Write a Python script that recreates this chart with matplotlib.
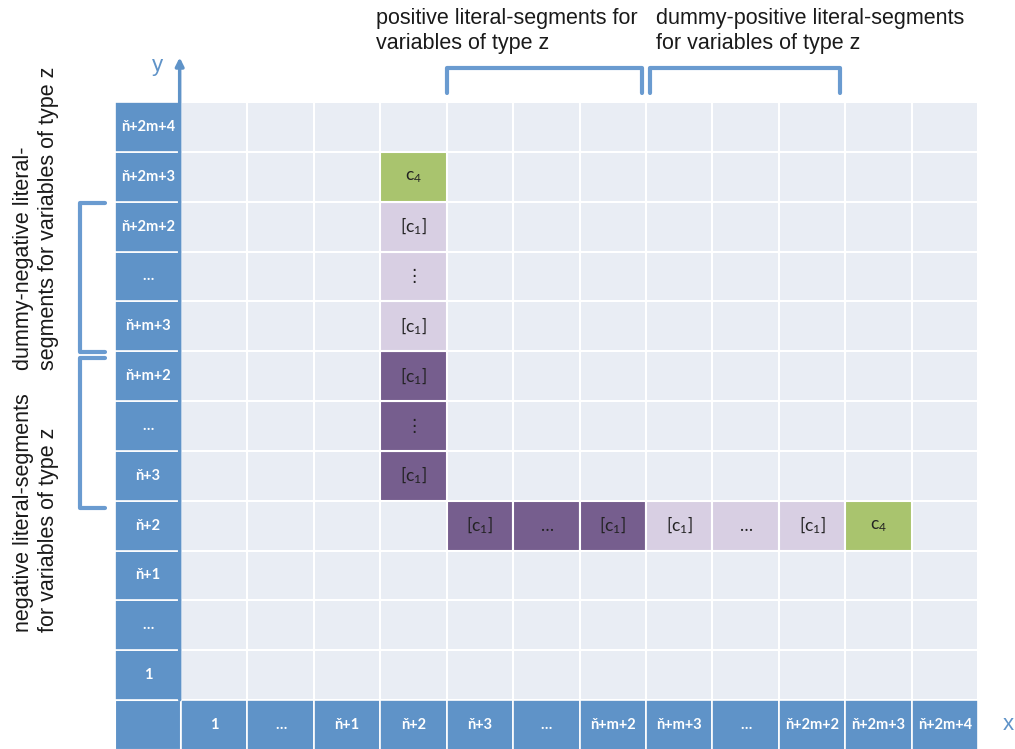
import matplotlib
matplotlib.use('Agg')
import matplotlib.pyplot as plt
from matplotlib.patches import Rectangle

plt.rcParams['mathtext.default'] = 'regular'

# etichette degli assi (uguali per righe e colonne)
labels = ['1', '…', 'ň+1', 'ň+2', 'ň+3', '…', 'ň+m+2', 'ň+m+3', '…',
          'ň+2m+2', 'ň+2m+3', 'ň+2m+4']

# celle colorate
cell_cols = [3, 3, 3, 3, 3, 3, 3, 4, 5, 6, 7, 8, 9, 10]
cell_rows = [4, 5, 6, 7, 8, 9, 10, 3, 3, 3, 3, 3, 3, 3]
cell_kind = ['dark', 'dark', 'dark', 'light', 'light', 'light', 'green',
             'dark', 'dark', 'dark', 'light', 'light', 'light', 'green']
cell_text = ['[c$_1$]', '⋮', '[c$_1$]', '[c$_1$]', '⋮', '[c$_1$]', 'c$_4$',
             '[c$_1$]', '…', '[c$_1$]', '[c$_1$]', '…', '[c$_1$]', 'c$_4$']

colors = {'dark': '#765E8E', 'light': '#D8CFE3', 'green': '#A9C46E'}
bg = '#E9EDF4'
blue = '#5F93C8'
line_blue = '#6A9BD0'

n = len(labels)

fig = plt.figure(figsize=(10.15, 7.49), dpi=100)
ax = fig.add_axes([0, 0, 1, 1])
ax.set_xlim(-2.725, 12.556)
ax.set_ylim(-0.983, 14.047)
ax.axis('off')

# griglia di sfondo
for i in range(n):
    for j in range(n):
        ax.add_patch(Rectangle((i, j), 1, 1, facecolor=bg, edgecolor='white', lw=1.5))

# celle colorate
for c, r, k, t in zip(cell_cols, cell_rows, cell_kind, cell_text):
    ax.add_patch(Rectangle((c, r), 1, 1, facecolor=colors[k], edgecolor='white', lw=1.5, zorder=2))
    ax.text(c + 0.5, r + 0.5, t, ha='center', va='center', fontsize=12.5,
            color='#222222', family=['Lato', 'DejaVu Sans'], zorder=3)

# etichette blu
ax.add_patch(Rectangle((-1, -1), 1, 1, facecolor=blue, edgecolor='white', lw=1.5))
for i, lab in enumerate(labels):
    ax.add_patch(Rectangle((-1, i), 1, 1, facecolor=blue, edgecolor='white', lw=1.2))
    ax.text(-0.5, i + 0.5, lab, ha='center', va='center', fontsize=10.5,
            color='white', weight='bold', family=['Lato', 'DejaVu Sans'])
    ax.add_patch(Rectangle((i, -1), 1, 1, facecolor=blue, edgecolor='white', lw=1.2))
    ax.text(i + 0.5, -0.5, lab, ha='center', va='center', fontsize=10.5,
            color='white', weight='bold', family=['Lato', 'DejaVu Sans'])

# assi con freccia
ax.annotate('', xy=(-0.02, 12.95), xytext=(-0.02, -0.05),
            arrowprops=dict(arrowstyle='-|>', color=blue, lw=2.5, mutation_scale=12), zorder=5)
ax.annotate('', xy=(12.7, -0.02), xytext=(-0.05, -0.02),
            arrowprops=dict(arrowstyle='-|>', color=blue, lw=2.5, mutation_scale=12), zorder=5)
ax.text(-0.35, 12.74, 'y', ha='center', va='center', fontsize=16, color=blue,
        family='Liberation Sans')
ax.text(12.45, -0.5, 'x', ha='center', va='center', fontsize=16, color=blue,
        family='Liberation Sans')

# parentesi
def bracket_top(x0, x1, ytop, ybot):
    ax.plot([x0, x0, x1, x1], [ybot, ytop, ytop, ybot], color=line_blue, lw=3,
            solid_joinstyle='round', solid_capstyle='round', zorder=4)

def bracket_left(y0, y1, xl, xr):
    ax.plot([xr, xl, xl, xr], [y0, y0, y1, y1], color=line_blue, lw=3,
            solid_joinstyle='round', solid_capstyle='round', zorder=4)

bracket_top(4.0, 6.94, 12.68, 12.18)
bracket_top(7.06, 9.92, 12.68, 12.18)
bracket_left(9.97, 6.98, -1.52, -1.14)
bracket_left(6.86, 3.85, -1.52, -1.14)

# testi
tkw = dict(fontsize=15.5, color='#1a1a1a', family='Liberation Sans', linespacing=1.22)
ax.text(2.94, 13.88, 'positive literal-segments for\nvariables of type z', ha='left', va='top', **tkw)
ax.text(7.15, 13.88, 'dummy-positive literal-segments\nfor variables of type z', ha='left', va='top', **tkw)
ax.text(-2.18, 6.62, 'dummy-negative literal-\nsegments for variables of type z', rotation=90,
        ha='center', va='bottom', multialignment='left', **tkw)
ax.text(-2.18, 1.36, 'negative literal-segments\nfor variables of type z', rotation=90,
        ha='center', va='bottom', multialignment='left', **tkw)

fig.savefig('out.png', dpi=100)
